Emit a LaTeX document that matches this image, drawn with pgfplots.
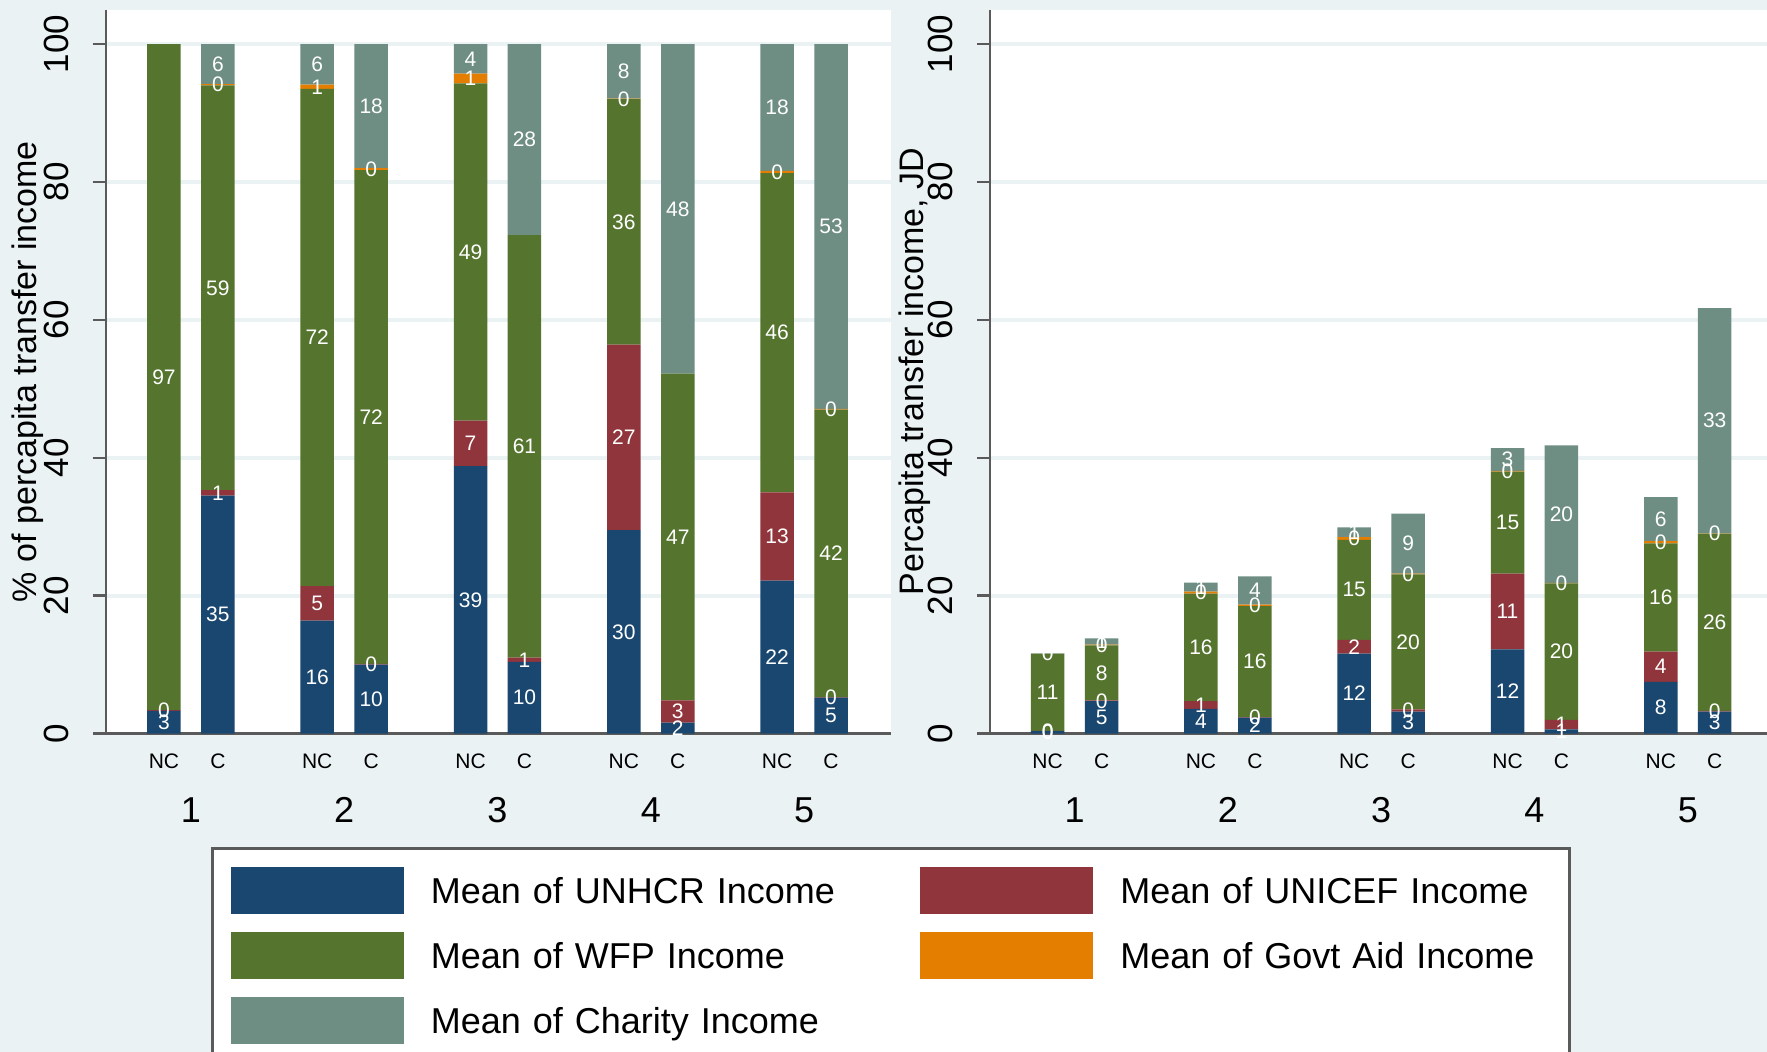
\documentclass[border=0pt]{standalone}
\usepackage{fontspec}
\setmainfont{Liberation Sans}
\usepackage{pgfplots}
\usepackage{pgfplotstable}
\pgfplotsset{compat=1.18}
\definecolor{sNavy}{RGB}{26,71,111}
\definecolor{sMaroon}{RGB}{144,53,59}
\definecolor{sGreen}{RGB}{85,117,47}
\definecolor{sOrange}{RGB}{227,126,0}
\definecolor{sTeal}{RGB}{110,142,132}
\definecolor{bgc}{RGB}{234,242,243}
\definecolor{gridc}{RGB}{234,242,243}
\definecolor{axc}{RGB}{90,90,90}

% share of per-capita transfer income (%)
\pgfplotstableread{
x     unhcr unicef wfp  govt charity
0.824 3.3   0.1    96.6 0.0  0.0
1.176 34.5  0.8    58.7 0.2  5.8
1.824 16.4  5.0    72.1 0.6  5.9
2.176 10.0  0.1    71.6 0.3  18.0
2.824 38.8  6.6    48.9 1.4  4.3
3.176 10.4  0.6    61.3 0.0  27.7
3.824 29.5  26.9   35.6 0.1  7.9
4.176 1.6   3.2    47.4 0.0  47.8
4.824 22.2  12.8   46.3 0.3  18.4
5.176 5.2   0.1    41.7 0.1  52.9
}\pctdata

% per-capita transfer income (JD)
\pgfplotstableread{
x     unhcr unicef wfp  govt charity
0.824 0.35  0.05   11.2 0.0  0.05
1.176 4.7   0.1    8.0  0.1  0.9
1.824 3.6   1.1    15.6 0.3  1.3
2.176 2.3   0.1    16.1 0.2  4.1
2.824 11.6  2.0    14.5 0.4  1.4
3.176 3.2   0.3    19.6 0.1  8.7
3.824 12.2  11.0   14.8 0.1  3.3
4.176 0.6   1.4    19.8 0.05 19.95
4.824 7.5   4.4    15.7 0.3  6.4
5.176 3.2   0.1    25.7 0.05 32.65
}\jddata

\pgfplotsset{
  stseg/.style n args={2}{
    fill=#1, draw=none,
    visualization depends on={\thisrow{#2} \as \rawy},
    nodes near coords={\pgfmathprintnumber[fixed,precision=0]{\rawy}},
    nodes near coords style={anchor=center,
      text=white, font=\fontsize{10.5}{10.5}\selectfont, inner sep=0pt},
    legend image code/.code={\fill[##1] (0pt,-11.75pt) rectangle (86.5pt,11.75pt);},
  },
  panel/.style={
    scale only axis, width=#1, height=362pt,
    ybar stacked, bar width=0.2185,
    enlargelimits=false,
    ymin=0, ymax=105,
    axis background/.style={fill=white},
    axis x line*=bottom, axis y line*=left,
    axis line style={draw=axc, line width=1.2pt},
    ytick={0,20,40,60,80,100},
    ymajorgrids, major grid style={draw=gridc, line width=2pt},
    tick align=outside, major tick length=6.5pt,
    y tick style={draw=axc, line width=1.2pt},
    /pgf/number format/assume math mode=true,
    yticklabel style={xshift=-11.8pt, rotate=90, anchor=south, inner sep=0pt,
      font=\fontsize{17.5}{17.5}\selectfont},
    xtick={0.824,1.176,1.824,2.176,2.824,3.176,3.824,4.176,4.824,5.176},
    xticklabels={NC,C,NC,C,NC,C,NC,C,NC,C},
    x tick style={draw=none},
    xticklabel style={font=\fontsize{10.5}{10.5}\selectfont, inner sep=0pt,
      text height=7.5pt, text depth=0pt, anchor=north, yshift=-3.2pt},
    extra x ticks={1,2,3,4,5},
    extra x tick labels={1,2,3,4,5},
    extra x tick style={major tick length=0pt,
      xticklabel style={font=\fontsize{18}{18}\selectfont, text height=12.9pt, yshift=-28.05pt}},
    ylabel style={font=\fontsize{17}{17}\selectfont, anchor=center},
  },
}

\begin{document}
\begin{tikzpicture}
\path[use as bounding box] (0,0) rectangle (883.5pt,526pt);
\clip (0,0) rectangle (883.5pt,526pt);
\fill[bgc] (0,0) rectangle (883.5pt,526pt);

\begin{axis}[panel=392.5pt, at={(53pt,159.2pt)}, anchor=south west,
  xmin=0.446, xmax=5.567,
  ylabel={\% of percapita transfer income},
  ylabel style={at={(axis description cs:-0.0994,0.5)}},
  legend columns=2,
  legend cell align=left,
  legend style={
    at={(axis description cs:0.1338,-0.1573)}, anchor=north west,
    draw=axc, line width=1.5pt, fill=white,
    inner xsep=9.15pt, inner ysep=9.25pt,
    row sep=8.9pt,
    font=\fontsize{18}{18}\selectfont,
    nodes={inner xsep=0pt, inner ysep=0pt, text height=12.9pt, text depth=0pt,
      text width=215.5pt, align=left},
    /tikz/every odd column/.append style={column sep=13.5pt},
    /tikz/every even column/.append style={column sep=29.25pt},
  },
]
\addplot[stseg={sNavy}{unhcr}]   table[x=x, y=unhcr]   {\pctdata};
\addplot[stseg={sMaroon}{unicef}] table[x=x, y=unicef] {\pctdata};
\addplot[stseg={sGreen}{wfp}]    table[x=x, y=wfp]     {\pctdata};
\addplot[stseg={sOrange}{govt}]  table[x=x, y=govt]    {\pctdata};
\addplot[stseg={sTeal}{charity}] table[x=x, y=charity] {\pctdata};
\legend{Mean of UNHCR Income, Mean of UNICEF Income, Mean of WFP Income, Mean of Govt Aid Income, Mean of Charity Income}
\end{axis}

\begin{axis}[panel=388.5pt, at={(495pt,159.2pt)}, anchor=south west,
  xmin=0.448, xmax=5.517,
  ylabel={Percapita transfer income, JD},
  ylabel style={at={(axis description cs:-0.0965,0.5)}},
]
\addplot[stseg={sNavy}{unhcr}]   table[x=x, y=unhcr]   {\jddata};
\addplot[stseg={sMaroon}{unicef}] table[x=x, y=unicef] {\jddata};
\addplot[stseg={sGreen}{wfp}]    table[x=x, y=wfp]     {\jddata};
\addplot[stseg={sOrange}{govt}]  table[x=x, y=govt]    {\jddata};
\addplot[stseg={sTeal}{charity}] table[x=x, y=charity] {\jddata};
\end{axis}
\end{tikzpicture}
\end{document}
